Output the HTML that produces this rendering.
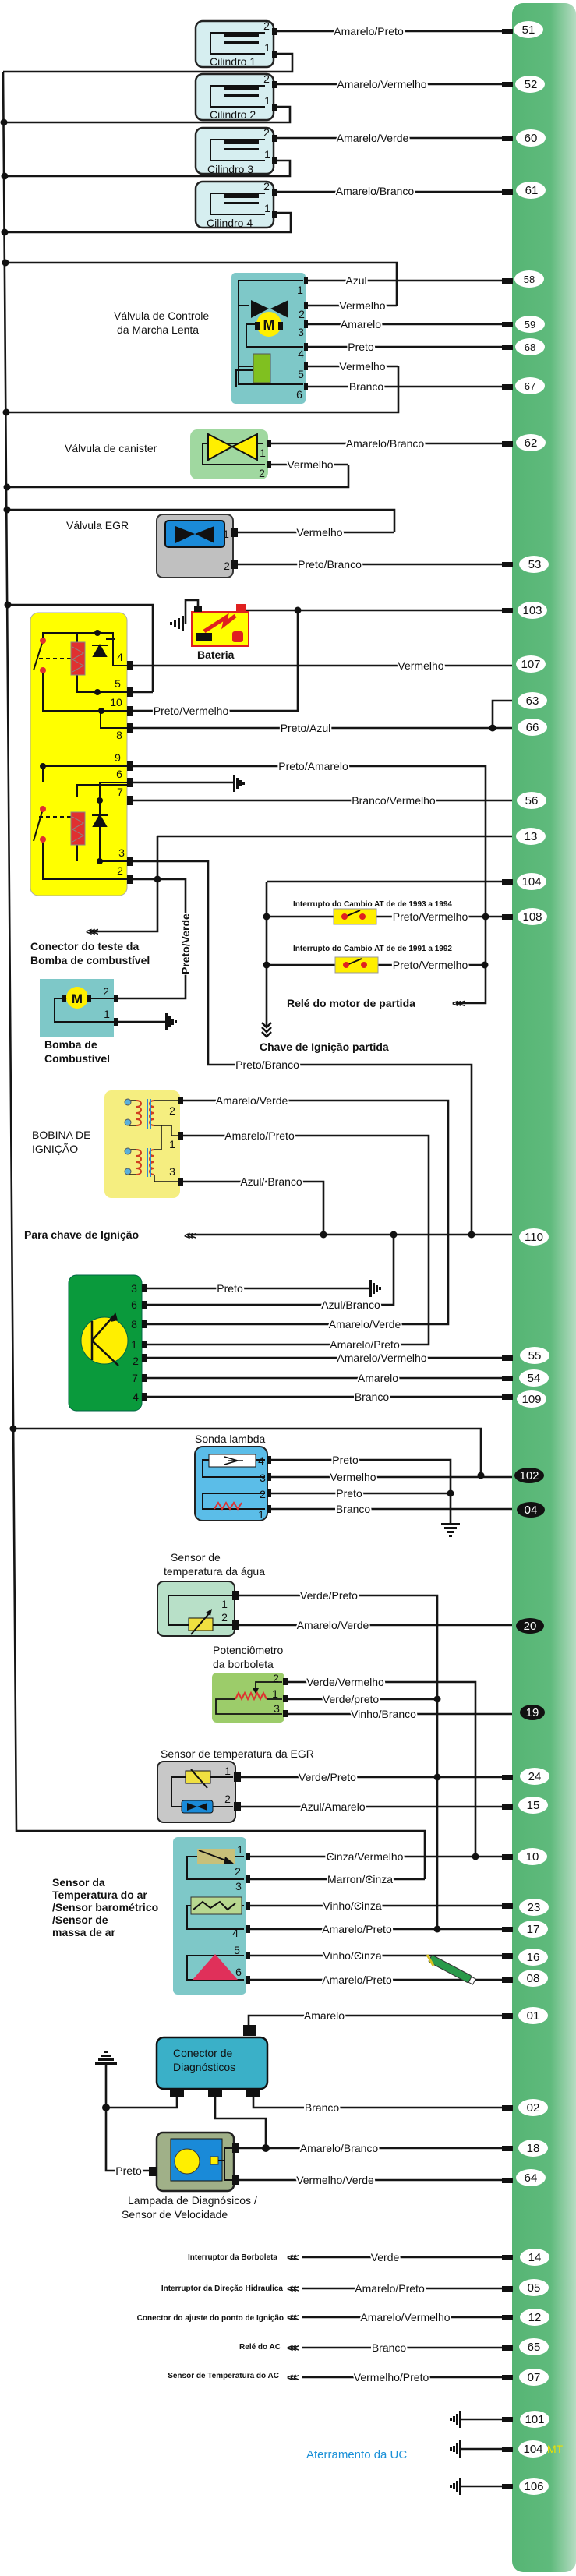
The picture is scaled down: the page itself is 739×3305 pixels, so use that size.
<!DOCTYPE html>
<html><head><meta charset="utf-8"><style>
html,body{margin:0;padding:0;background:#fff}
svg{display:block}
text{font-family:"Liberation Sans",sans-serif;fill:#111}
.l{font-size:14px;text-anchor:middle;stroke:#fff;stroke-width:4px;paint-order:stroke;stroke-linejoin:round}
.n{font-size:14px;text-anchor:middle}
.t{font-size:14px}
.s{font-size:10px;font-weight:bold}
.w{fill:none;stroke:#151515;stroke-width:2.6}
.pn{font-size:15px;text-anchor:middle}
</style></head><body>
<svg width="739" height="3305" viewBox="0 0 739 3305" xmlns="http://www.w3.org/2000/svg">
<defs>
<linearGradient id="gb" x1="0" x2="1" y1="0" y2="0"><stop offset="0" stop-color="#56b574"/><stop offset="0.6" stop-color="#5fba7c"/><stop offset="1" stop-color="#b5dcc2"/></linearGradient>
</defs>
<!-- green ECU bar -->
<rect x="657" y="4" width="82" height="3296" rx="14" fill="url(#gb)"/>

<!-- main bus -->
<path class="w" d="M4 92 L21 2349 L545 2349 L545 2411"/>
<g class="w">
<path d="M351 69 H375 V92 H4"/>
<path d="M351 137 H372 V157 H5"/>
<path d="M351 206 H372 V226 H6"/>
<path d="M351 273 H373 V298 H6"/>
<path d="M7 337 H509 V392"/>
<path d="M8 529 H511 V470"/>
<path d="M9 625 H447 V596"/>
<path d="M9 654 H506 V683"/>
<path d="M10 776 H196 V888"/>
<path d="M17 1833 H617 V1893"/>
</g>
<g fill="#111">
<circle cx="5" cy="157" r="4.5"/><circle cx="6" cy="226" r="4.5"/><circle cx="6" cy="298" r="4.5"/><circle cx="7" cy="337" r="4.5"/><circle cx="8" cy="529" r="4.5"/><circle cx="9" cy="625" r="4.5"/><circle cx="9" cy="654" r="4.5"/><circle cx="10" cy="776" r="4.5"/><circle cx="17" cy="1833" r="4.5"/>
</g>

<!-- injectors -->
<g id="inj">
<rect x="251" y="27" width="100" height="59" rx="9" fill="#d6eef0" stroke="#222" stroke-width="2.5"/>
<path d="M340 42 H270 V69 H340" fill="none" stroke="#111" stroke-width="2"/>
<rect x="288" y="42" width="44" height="6" fill="#111"/><rect x="288" y="53" width="44" height="3" fill="#111"/>
<rect x="349" y="36" width="6" height="9" fill="#111"/><rect x="349" y="65" width="6" height="9" fill="#111"/>
<text x="342" y="38" class="n" font-size="13">2</text><text x="343" y="66" class="n" font-size="13">1</text>
</g>
<text x="269" y="84" class="t" font-size="15">Cilindro 1</text>
<use href="#inj" y="68"/><text x="269" y="152" class="t" font-size="15">Cilindro 2</text>
<use href="#inj" y="137"/><text x="266" y="222" class="t" font-size="15">Cilindro 3</text>
<use href="#inj" y="206"/><text x="265" y="291" class="t" font-size="15">Cilindro 4</text>

<!-- pin wires to ECU -->
<g class="w">
<path d="M351 40 H657"/><path d="M351 108 H657"/><path d="M351 177 H657"/><path d="M351 246 H657"/>
<path d="M392 360 H657"/><path d="M392 392 H509"/><path d="M392 416 H657"/><path d="M392 445 H657"/><path d="M392 470 H511"/><path d="M392 496 H657"/>
<path d="M344 569 H657"/><path d="M344 596 H447"/>
<path d="M299 683 H506"/><path d="M299 724 H657"/>
<path d="M310 783 H657"/><path d="M163 854 H657"/><path d="M163 888 H196"/><path d="M163 912 H382 V783"/>
<path d="M163 934 H657"/><path d="M632 934 V899 H657"/>
<path d="M163 983 H623 V1287 H585"/><path d="M163 1004 H300"/><path d="M163 1027 H657"/>
<path d="M202 1073 H657"/><path d="M202 1073 V1195 H116"/>
<path d="M163 1105 H267 V1366 H605 V1584"/>
<path d="M163 1128 H238 V1281 H146"/><path d="M146 1311 H213"/>
<path d="M342 1131 H657"/><path d="M342 1131 V1318"/>
<path d="M342 1176 H428"/><path d="M483 1176 H657"/><path d="M342 1238 H430"/><path d="M485 1238 H623"/>
<path d="M231 1412 H575 V1699 H182"/><path d="M231 1457 H550 V1725 H182"/><path d="M231 1516 H415 V1584"/>
<path d="M240 1584 H657"/><path d="M505 1584 V1674 H182"/>
<path d="M182 1653 H475"/><path d="M182 1742 H657"/><path d="M182 1768 H657"/><path d="M182 1792 H657"/>
<path d="M343 1873 H578 V1955"/><path d="M343 1895 H657"/><path d="M343 1916 H578"/><path d="M343 1936 H657"/>
<path d="M301 2047 H561 V2475"/><path d="M301 2085 H657"/>
<path d="M365 2158 H610 V2382"/><path d="M365 2180 H561"/><path d="M365 2199 H657"/>
<path d="M302 2280 H657"/><path d="M302 2318 H657"/>
<path d="M316 2382 H657"/><path d="M316 2411 H545"/><path d="M316 2445 H657"/><path d="M316 2475 H657"/><path d="M316 2509 H657"/><path d="M316 2540 H657"/>
<path d="M319 2608 V2586 H657"/><path d="M325 2690 V2704 H657"/><path d="M227 2690 V2704 H136"/><path d="M136 2649 V2785 H195"/>
<path d="M276 2690 V2718 H341 V2756"/><path d="M300 2756 H657"/><path d="M300 2797 H657"/>
<path d="M388 2896 H657"/><path d="M388 2936 H657"/><path d="M388 2973 H657"/><path d="M388 3012 H657"/><path d="M388 3050 H657"/>
<path d="M590 3104 H657"/><path d="M590 3142 H657"/><path d="M590 3190 H657"/>
</g>
<g fill="#111">
<circle cx="382" cy="783" r="4.5"/><circle cx="632" cy="934" r="4.5"/><circle cx="202" cy="1128" r="4.5"/>
<circle cx="342" cy="1176" r="4.5"/><circle cx="342" cy="1238" r="4.5"/><circle cx="623" cy="1176" r="4.5"/><circle cx="622" cy="1238" r="4.5"/>
<circle cx="415" cy="1584" r="4.5"/><circle cx="505" cy="1584" r="4.5"/><circle cx="605" cy="1584" r="4.5"/>
<circle cx="617" cy="1893" r="4.5"/><circle cx="578" cy="1916" r="4.5"/>
<circle cx="561" cy="2180" r="4.5"/><circle cx="561" cy="2280" r="4.5"/><circle cx="561" cy="2475" r="4.5"/><circle cx="610" cy="2382" r="4.5"/>
<circle cx="136" cy="2704" r="5"/><circle cx="341" cy="2756" r="5"/>
</g>
<!-- ECU connector stubs -->
<g fill="#111">
<rect x="644" y="37" width="14" height="7"/><rect x="644" y="105" width="14" height="7"/><rect x="644" y="174" width="14" height="7"/><rect x="644" y="243" width="14" height="7"/>
<rect x="644" y="357" width="14" height="7"/><rect x="644" y="413" width="14" height="7"/><rect x="644" y="442" width="14" height="7"/><rect x="644" y="493" width="14" height="7"/>
<rect x="644" y="566" width="14" height="7"/><rect x="644" y="721" width="14" height="7"/><rect x="644" y="780" width="14" height="7"/>
<rect x="644" y="1128" width="14" height="7"/><rect x="644" y="1173" width="14" height="7"/>
<rect x="644" y="1739" width="14" height="7"/><rect x="644" y="1765" width="14" height="7"/><rect x="644" y="1789" width="14" height="7"/>
<rect x="644" y="2277" width="14" height="7"/><rect x="644" y="2315" width="14" height="7"/><rect x="644" y="2379" width="14" height="7"/><rect x="644" y="2442" width="14" height="7"/><rect x="644" y="2472" width="14" height="7"/><rect x="644" y="2506" width="14" height="7"/><rect x="644" y="2537" width="14" height="7"/>
<rect x="644" y="2583" width="14" height="7"/><rect x="644" y="2701" width="14" height="7"/><rect x="644" y="2753" width="14" height="7"/><rect x="644" y="2794" width="14" height="7"/>
<rect x="644" y="2893" width="14" height="7"/><rect x="644" y="2933" width="14" height="7"/><rect x="644" y="2970" width="14" height="7"/><rect x="644" y="3009" width="14" height="7"/><rect x="644" y="3047" width="14" height="7"/>
<rect x="644" y="3101" width="14" height="7"/><rect x="644" y="3139" width="14" height="7"/><rect x="644" y="3187" width="14" height="7"/>
</g>
<!-- ECU pin ovals -->
<g fill="#fff">
<ellipse cx="678" cy="38" rx="19" ry="11"/><ellipse cx="680" cy="108" rx="19" ry="11"/><ellipse cx="681" cy="177" rx="19" ry="11"/><ellipse cx="681" cy="244" rx="19" ry="11"/>
<ellipse cx="679" cy="358" rx="19" ry="11"/><ellipse cx="680" cy="416" rx="19" ry="11"/><ellipse cx="680" cy="445" rx="19" ry="11"/><ellipse cx="680" cy="495" rx="19" ry="11"/>
<ellipse cx="681" cy="568" rx="19" ry="11"/><ellipse cx="685" cy="724" rx="19" ry="11"/><ellipse cx="683" cy="783" rx="19" ry="11"/><ellipse cx="681" cy="852" rx="19" ry="11"/>
<ellipse cx="683" cy="899" rx="19" ry="11"/><ellipse cx="683" cy="933" rx="19" ry="11"/><ellipse cx="682" cy="1027" rx="19" ry="11"/><ellipse cx="681" cy="1073" rx="19" ry="11"/>
<ellipse cx="682" cy="1131" rx="19" ry="11"/><ellipse cx="683" cy="1176" rx="19" ry="11"/><ellipse cx="685" cy="1587" rx="19" ry="11"/>
<ellipse cx="686" cy="1739" rx="19" ry="11"/><ellipse cx="685" cy="1768" rx="19" ry="11"/><ellipse cx="682" cy="1795" rx="19" ry="11"/>
<ellipse cx="686" cy="2279" rx="19" ry="11"/><ellipse cx="684" cy="2316" rx="19" ry="11"/><ellipse cx="683" cy="2382" rx="19" ry="11"/><ellipse cx="685" cy="2447" rx="19" ry="11"/><ellipse cx="684" cy="2475" rx="19" ry="11"/><ellipse cx="684" cy="2511" rx="19" ry="11"/><ellipse cx="684" cy="2538" rx="19" ry="11"/>
<ellipse cx="684" cy="2586" rx="19" ry="11"/><ellipse cx="684" cy="2704" rx="19" ry="11"/><ellipse cx="684" cy="2756" rx="19" ry="11"/><ellipse cx="681" cy="2794" rx="19" ry="11"/>
<ellipse cx="686" cy="2896" rx="19" ry="11"/><ellipse cx="685" cy="2935" rx="19" ry="11"/><ellipse cx="686" cy="2973" rx="19" ry="11"/><ellipse cx="685" cy="3011" rx="19" ry="11"/><ellipse cx="685" cy="3050" rx="19" ry="11"/>
<ellipse cx="686" cy="3104" rx="19" ry="11"/><ellipse cx="684" cy="3142" rx="19" ry="11"/><ellipse cx="685" cy="3190" rx="19" ry="11"/>
</g>
<g fill="#111"><ellipse cx="679" cy="1893" rx="19" ry="10"/><ellipse cx="681" cy="1937" rx="18" ry="10"/><ellipse cx="680" cy="2086" rx="18" ry="10"/><ellipse cx="683" cy="2197" rx="16" ry="10"/></g>
<g class="pn">
<text x="678" y="43">51</text><text x="681" y="113">52</text><text x="681" y="182">60</text><text x="682" y="249">61</text>
<text x="679" y="363" font-size="13">58</text><text x="680" y="421" font-size="13">59</text><text x="680" y="450" font-size="13">68</text><text x="680" y="500" font-size="13">67</text>
<text x="681" y="573">62</text><text x="686" y="729">53</text><text x="683" y="788">103</text><text x="681" y="857">107</text>
<text x="683" y="904">63</text><text x="683" y="938">66</text><text x="682" y="1032">56</text><text x="681" y="1078">13</text>
<text x="682" y="1136">104</text><text x="683" y="1181">108</text><text x="685" y="1592">110</text>
<text x="686" y="1744">55</text><text x="685" y="1773">54</text><text x="682" y="1800">109</text>
<text x="679" y="1898" fill="#fff" style="fill:#fff">102</text><text x="681" y="1942" style="fill:#fff">04</text><text x="680" y="2091" style="fill:#fff">20</text><text x="683" y="2202" style="fill:#fff">19</text>
<text x="686" y="2284">24</text><text x="684" y="2321">15</text><text x="683" y="2387">10</text><text x="685" y="2452">23</text><text x="684" y="2480">17</text><text x="684" y="2516">16</text><text x="684" y="2543">08</text>
<text x="684" y="2591">01</text><text x="684" y="2709">02</text><text x="684" y="2761">18</text><text x="681" y="2799">64</text>
<text x="686" y="2901">14</text><text x="685" y="2940">05</text><text x="686" y="2978">12</text><text x="685" y="3016">65</text><text x="685" y="3055">07</text>
<text x="686" y="3109">101</text><text x="684" y="3147">104</text><text x="685" y="3195">106</text>
</g>
<text x="702" y="3147" font-size="14" style="fill:#f0e000">MT</text>

<!-- IAC valve -->
<rect x="297" y="350" width="95" height="168" rx="5" fill="#7ec8c8"/>
<path d="M389 360 H306 V493 H389 M306 392 H320 M316 416 V445 H389 M316 416 H330 M306 470 H325 M325 475 H303 V496" fill="none" stroke="#111" stroke-width="2"/>
<polygon points="322,397 345,408 322,420" fill="#111" transform="translate(0,-12)"/>
<polygon points="370,385 347,396 370,408" fill="#111"/>
<circle cx="345" cy="416" r="16" fill="#ffef00"/>
<text x="345" y="423" font-size="18" font-weight="bold" text-anchor="middle">M</text>
<rect x="327" y="413" width="6" height="10" fill="#111"/><rect x="357" y="413" width="6" height="10" fill="#111"/>
<rect x="325" y="454" width="22" height="37" fill="#80c020" stroke="#555"/>
<g fill="#111"><rect x="390" y="355" width="5" height="10"/><rect x="390" y="387" width="5" height="10"/><rect x="390" y="411" width="5" height="10"/><rect x="390" y="440" width="5" height="10"/><rect x="390" y="465" width="5" height="10"/><rect x="390" y="491" width="5" height="10"/></g>
<g class="n" font-size="14"><text x="385" y="377">1</text><text x="387" y="408">2</text><text x="386" y="431">3</text><text x="386" y="459">4</text><text x="386" y="485">5</text><text x="384" y="511">6</text></g>
<text x="146" y="410" class="t" font-size="14">Válvula de Controle</text>
<text x="150" y="428" class="t" font-size="14">da Marcha Lenta</text>

<!-- canister -->
<rect x="244" y="551" width="100" height="64" rx="9" fill="#a0d8a0"/>
<path d="M337 569 H260 V596 H340" fill="none" stroke="#111" stroke-width="2"/>
<polygon points="267,557 298,573 267,590" fill="#ffef00" stroke="#111" stroke-width="2"/>
<polygon points="330,557 298,573 330,590" fill="#ffef00" stroke="#111" stroke-width="2"/>
<rect x="342" y="565" width="6" height="9" fill="#111"/><rect x="342" y="592" width="6" height="9" fill="#111"/>
<text x="337" y="586" class="n">1</text><text x="336" y="612" class="n">2</text>
<text x="83" y="580" class="t" font-size="15">Válvula de canister</text>

<!-- EGR valve -->
<rect x="201" y="660" width="98" height="81" rx="8" fill="#c0c0c0" stroke="#333" stroke-width="2"/>
<rect x="212" y="668" width="76" height="34" rx="4" fill="#1a8ad8" stroke="#111" stroke-width="2"/>
<polygon points="225,675 250,685 225,697" fill="#111"/><polygon points="275,675 250,685 275,697" fill="#111"/>
<rect x="297" y="677" width="8" height="12" fill="#111"/><rect x="297" y="718" width="8" height="12" fill="#111"/>
<text x="290" y="690" class="n">1</text><text x="291" y="731" class="n">2</text>
<text x="85" y="679" class="t" font-size="15">Válvula EGR</text>

<!-- battery -->
<path class="w" d="M254 783 V770 H238 V800"/>
<g fill="#111"><rect x="233" y="790" width="3" height="20"/><rect x="228" y="793" width="3" height="14"/><rect x="223" y="796" width="3" height="8"/><rect x="218" y="798" width="3" height="4"/></g>
<rect x="246" y="785" width="73" height="44" fill="#ffff00" stroke="#e02020" stroke-width="2"/>
<rect x="249" y="777" width="10" height="8" fill="#111"/><rect x="303" y="775" width="12" height="10" fill="#e02020"/>
<rect x="252" y="812" width="20" height="10" fill="#111"/>
<path d="M262 810 L290 792 L288 801 L302 790" stroke="#e02020" stroke-width="5" fill="none"/>
<rect x="298" y="810" width="14" height="14" rx="3" fill="#e02020"/>
<text x="253" y="845" class="t" font-size="14" font-weight="bold">Bateria</text>

<!-- relay -->
<rect x="39" y="786" width="124" height="363" rx="10" fill="#ffff00" stroke="#aaa" stroke-width="1"/>
<g fill="none" stroke="#111" stroke-width="2">
<path d="M55 820 V812 H145 V854 H163 M99 812 V825 M99 865 V888 H163 M124 812 V812 M55 860 V912 H163 M129 912 V934 H163 M145 812 V816 M136 820 H147"/>
<path d="M55 1003 V983 H163 M99 1022 V1007 H128 V1004 H163 M128 1007 H163 M128 1007 V1105 H163 M99 1062 V1105 M55 1076 V1128 H163"/>
<path d="M43 860 L55 822 M43 1079 L55 1038"/>
<path d="M50 845 H92 M50 1048 H92" stroke-dasharray="5,4"/>
</g>
<path d="M120 842 L128 828 L136 842 Z M118 828 H138" fill="#111" stroke="#111" stroke-width="2"/>
<path d="M120 1060 L128 1046 L136 1060 Z M118 1046 H138" fill="#111" stroke="#111" stroke-width="2"/>
<rect x="91" y="824" width="18" height="42" fill="#e03030" stroke="#888"/>
<rect x="91" y="1042" width="18" height="42" fill="#e03030" stroke="#888"/>
<path d="M93 830 L107 838 L93 846 L107 854 L93 862 M93 1048 L107 1056 L93 1064 L107 1072 L93 1080" fill="none" stroke="#888" stroke-width="1"/>
<g fill="#e03030"><circle cx="55" cy="822" r="4"/><circle cx="55" cy="860" r="4"/><circle cx="55" cy="1038" r="4"/><circle cx="55" cy="1077" r="4"/></g>
<g fill="#111"><circle cx="125" cy="812" r="4"/><circle cx="125" cy="888" r="4"/><circle cx="130" cy="912" r="4"/><circle cx="55" cy="983" r="4"/><circle cx="128" cy="1027" r="4"/><circle cx="128" cy="1105" r="4"/>
<rect x="163" y="848" width="7" height="12"/><rect x="163" y="882" width="7" height="12"/><rect x="163" y="906" width="7" height="12"/><rect x="163" y="928" width="7" height="12"/><rect x="163" y="977" width="7" height="12"/><rect x="163" y="998" width="7" height="12"/><rect x="163" y="1021" width="7" height="12"/><rect x="163" y="1099" width="7" height="12"/><rect x="163" y="1122" width="7" height="12"/></g>
<g class="n" font-size="14"><text x="154" y="848">4</text><text x="151" y="882">5</text><text x="149" y="906">10</text><text x="153" y="948">8</text><text x="151" y="977">9</text><text x="153" y="998">6</text><text x="154" y="1021">7</text><text x="156" y="1099">3</text><text x="154" y="1122">2</text></g>

<!-- grounds (right-pointing, vertical bar) -->
<g fill="#111">
<rect x="299" y="994" width="3" height="22"/><rect x="303" y="998" width="3" height="14"/><rect x="307" y="1001" width="3" height="8"/><rect x="311" y="1003" width="3" height="4"/>
<rect x="212" y="1300" width="3" height="22"/><rect x="216" y="1304" width="3" height="14"/><rect x="220" y="1307" width="3" height="8"/><rect x="224" y="1309" width="3" height="4"/>
<rect x="474" y="1642" width="3" height="22"/><rect x="478" y="1646" width="3" height="14"/><rect x="482" y="1649" width="3" height="8"/><rect x="486" y="1651" width="3" height="4"/>
<rect x="566" y="1954" width="24" height="3"/><rect x="570" y="1959" width="16" height="3"/><rect x="573" y="1964" width="10" height="3"/><rect x="576" y="1969" width="4" height="3"/>
<rect x="122" y="2646" width="28" height="3"/><rect x="126" y="2641" width="20" height="3"/><rect x="130" y="2636" width="12" height="3"/><rect x="133" y="2631" width="6" height="3"/>
</g>
<g id="gl" fill="#111"><rect x="589" y="3093" width="3" height="22"/><rect x="585" y="3097" width="3" height="14"/><rect x="581" y="3100" width="3" height="8"/><rect x="577" y="3102" width="3" height="4"/></g>
<use href="#gl" y="38"/><use href="#gl" y="86"/>

<!-- arrows -->
<g font-size="14" font-weight="bold" style="letter-spacing:-4px">
<text x="110" y="1200">&lt;&lt;&lt;</text>
<text x="580" y="1292">&lt;&lt;&lt;</text>
<text x="236" y="1590">&lt;&lt;&lt;</text>
<text x="368" y="2901">&lt;&lt;&lt;</text><text x="368" y="2941">&lt;&lt;&lt;</text><text x="368" y="2978">&lt;&lt;&lt;</text><text x="368" y="3017">&lt;&lt;&lt;</text><text x="368" y="3055">&lt;&lt;&lt;</text>
</g>
<path d="M336 1312 L342 1318 L348 1312 M336 1318 L342 1324 L348 1318 M336 1324 L342 1330 L348 1324" fill="none" stroke="#111" stroke-width="2.5"/>

<text x="39" y="1219" class="t" font-size="13" font-weight="bold">Conector do teste da</text>
<text x="39" y="1237" class="t" font-size="13" font-weight="bold">Bomba de combustível</text>
<text x="243" y="1250" class="t" font-size="13" font-weight="bold" transform="rotate(-90 243 1250)" style="stroke:#fff;stroke-width:3px;paint-order:stroke">Preto/Verde</text>

<!-- pump -->
<rect x="51" y="1256" width="95" height="74" fill="#7ec8c8"/>
<path d="M146 1281 H70 V1311 H146" fill="none" stroke="#111" stroke-width="2"/>
<circle cx="99" cy="1280" r="14" fill="#ffef00"/><text x="99" y="1287" font-size="17" font-weight="bold" text-anchor="middle">M</text>
<rect x="80" y="1276" width="5" height="9" fill="#111"/><rect x="112" y="1276" width="5" height="9" fill="#111"/>
<rect x="146" y="1276" width="5" height="10" fill="#111"/><rect x="146" y="1306" width="5" height="10" fill="#111"/>
<text x="136" y="1277" class="n">2</text><text x="137" y="1306" class="n">1</text>
<text x="57" y="1345" class="t" font-size="13" font-weight="bold">Bomba de</text>
<text x="57" y="1363" class="t" font-size="13" font-weight="bold">Combustível</text>

<!-- AT switches -->
<text x="376" y="1163" class="s" font-size="9">Interrupto do Cambio AT de de 1993 a 1994</text>
<text x="376" y="1220" class="s" font-size="9">Interrupto do Cambio AT de de 1991 a 1992</text>
<rect x="428" y="1166" width="55" height="20" fill="#ffef00" stroke="#999"/><rect x="430" y="1228" width="55" height="20" fill="#ffef00" stroke="#999"/>
<path d="M443 1176 L462 1168 M445 1238 L464 1230" stroke="#111" stroke-width="2"/>
<g fill="#e02020"><circle cx="442" cy="1176" r="4"/><circle cx="465" cy="1176" r="4"/><circle cx="444" cy="1238" r="4"/><circle cx="467" cy="1238" r="4"/></g>
<text x="552" y="1181" class="l" font-size="15">Preto/Vermelho</text>
<text x="552" y="1243" class="l" font-size="15">Preto/Vermelho</text>
<text x="368" y="1292" class="t" font-size="13" font-weight="bold">Relé do motor de partida</text>
<text x="333" y="1348" class="t" font-size="13" font-weight="bold">Chave de Ignição partida</text>

<!-- coil -->
<rect x="134" y="1399" width="97" height="138" rx="9" fill="#f5ee80"/>
<g fill="none" stroke="#d04020" stroke-width="2">
<path d="M175 1412 c8 0 8 8 0 8 c8 0 8 8 0 8 c8 0 8 8 0 8 c8 0 8 8 0 8 M198 1412 c-8 0 -8 8 0 8 c-8 0 -8 8 0 8 c-8 0 -8 8 0 8 c-8 0 -8 8 0 8"/>
<path d="M175 1475 c8 0 8 8 0 8 c8 0 8 8 0 8 c8 0 8 8 0 8 c8 0 8 8 0 8 M198 1475 c-8 0 -8 8 0 8 c-8 0 -8 8 0 8 c-8 0 -8 8 0 8 c-8 0 -8 8 0 8"/>
</g>
<path d="M198 1412 H231 M198 1444 H220 V1457 H231 M207 1444 V1475 H198 M198 1507 V1516 H231 M165 1412 H175 M165 1444 H175 M165 1475 H175 M165 1507 H175" fill="none" stroke="#111" stroke-width="1.5"/>
<g stroke="#2a8ad8" stroke-width="2"><path d="M189 1410 V1448 M193 1410 V1448 M189 1473 V1510 M193 1473 V1510"/></g>
<g fill="#5ab0d8" stroke="#555"><circle cx="164" cy="1414" r="4"/><circle cx="164" cy="1440" r="4"/><circle cx="164" cy="1477" r="4"/><circle cx="164" cy="1503" r="4"/></g>
<g fill="#111"><rect x="229" y="1407" width="6" height="10"/><rect x="229" y="1452" width="6" height="10"/><rect x="229" y="1511" width="6" height="10"/></g>
<text x="221" y="1430" class="n">2</text><text x="221" y="1473" class="n">1</text><text x="221" y="1508" class="n">3</text>
<text x="41" y="1461" class="t" font-size="14">BOBINA DE</text>
<text x="41" y="1479" class="t" font-size="14">IGNIÇÃO</text>
<text x="31" y="1589" class="t" font-size="15" font-weight="bold">Para chave de Ignição</text>

<!-- module -->
<rect x="88" y="1636" width="94" height="174" rx="10" fill="#0a9a3c" stroke="#064" stroke-width="1"/>
<circle cx="134" cy="1720" r="30" fill="#ffef00" stroke="#064"/>
<path d="M118 1695 V1745 M118 1720 L146 1688 M118 1720 L152 1752" stroke="#111" stroke-width="2.5" fill="none"/>
<polygon points="148,1683 142,1696 151,1694" fill="#111"/>
<g fill="#111"><rect x="182" y="1648" width="7" height="10"/><rect x="182" y="1669" width="7" height="10"/><rect x="182" y="1694" width="7" height="10"/><rect x="182" y="1720" width="7" height="10"/><rect x="182" y="1737" width="7" height="10"/><rect x="182" y="1763" width="7" height="10"/><rect x="182" y="1787" width="7" height="10"/></g>
<g class="n"><text x="172" y="1658">3</text><text x="172" y="1679">6</text><text x="172" y="1704">8</text><text x="172" y="1730">1</text><text x="174" y="1751">2</text><text x="173" y="1773">7</text><text x="174" y="1797">4</text></g>

<!-- sonda -->
<text x="250" y="1851" class="t" font-size="14">Sonda lambda</text>
<rect x="250" y="1856" width="93" height="95" rx="10" fill="#5bbde8" stroke="#222" stroke-width="2"/>
<path d="M340 1873 H260 V1895 H340 M340 1916 H260 V1936 H340" fill="none" stroke="#111" stroke-width="2"/>
<rect x="268" y="1866" width="60" height="16" fill="#fff" stroke="#111"/>
<path d="M288 1869 L305 1874 L288 1879 M292 1874 H312" stroke="#111" stroke-width="1.5" fill="none"/>
<path d="M275 1936 l5 -8 l5 8 l5 -8 l5 8 l5 -8 l5 8 l5 -8" stroke="#e03030" stroke-width="2" fill="none"/>
<g fill="#111"><rect x="342" y="1868" width="6" height="10"/><rect x="342" y="1890" width="6" height="10"/><rect x="342" y="1911" width="6" height="10"/><rect x="342" y="1931" width="6" height="10"/></g>
<g class="n" font-size="13"><text x="335" y="1879">4</text><text x="337" y="1901">3</text><text x="337" y="1922">2</text><text x="335" y="1948">1</text></g>

<!-- water temp -->
<text x="219" y="2003" class="t" font-size="13">Sensor de</text>
<text x="210" y="2021" class="t" font-size="13">temperatura  da água</text>
<rect x="202" y="2029" width="99" height="70" rx="8" fill="#b8e0c8" stroke="#222" stroke-width="2"/>
<path d="M298 2047 H216 V2085 H298" fill="none" stroke="#111" stroke-width="2"/>
<rect x="242" y="2076" width="31" height="16" fill="#f0e040" stroke="#111"/>
<path d="M245 2097 L270 2068" stroke="#111" stroke-width="2"/><polygon points="272,2064 264,2069 270,2073" fill="#111"/>
<rect x="298" y="2041" width="8" height="12" fill="#111"/><rect x="298" y="2079" width="8" height="12" fill="#111"/>
<text x="288" y="2063" class="n">1</text><text x="288" y="2080" class="n">2</text>

<!-- pot -->
<text x="273" y="2122" class="t" font-size="13">Potenciômetro</text>
<text x="273" y="2140" class="t" font-size="13">da borboleta</text>
<rect x="272" y="2146" width="93" height="64" rx="6" fill="#9ccc6a"/>
<path d="M362 2158 H328 V2168 M362 2180 H343 M362 2199 H277 V2180 H302" fill="none" stroke="#111" stroke-width="1.8"/>
<path d="M302 2180 l4 -8 l4 8 l4 -8 l4 8 l4 -8 l4 8 l4 -8 l4 8 l4 -8 l4 8" stroke="#e03030" stroke-width="2" fill="none"/>
<polygon points="324,2166 332,2166 328,2173" fill="#111"/>
<g fill="#111"><rect x="363" y="2153" width="6" height="9"/><rect x="363" y="2175" width="6" height="9"/><rect x="363" y="2194" width="6" height="9"/></g>
<g class="n" font-size="12"><text x="354" y="2158">2</text><text x="353" y="2178">1</text><text x="355" y="2197">3</text></g>

<!-- EGR temp -->
<text x="206" y="2255" class="t" font-size="13">Sensor de temperatura da EGR</text>
<rect x="202" y="2260" width="100" height="78" rx="8" fill="#c8c8c8" stroke="#222" stroke-width="2"/>
<path d="M299 2280 H220 V2318 H299" fill="none" stroke="#111" stroke-width="2"/>
<rect x="238" y="2272" width="32" height="16" fill="#f0e040" stroke="#111"/>
<path d="M245 2270 L266 2294" stroke="#111" stroke-width="2"/>
<rect x="233" y="2310" width="40" height="16" rx="3" fill="#1a8ad8" stroke="#111"/>
<polygon points="240,2313 253,2318 240,2323" fill="#111"/><polygon points="266,2313 253,2318 266,2323" fill="#111"/>
<rect x="300" y="2274" width="9" height="12" fill="#111"/><rect x="300" y="2312" width="9" height="12" fill="#111"/>
<text x="292" y="2277" class="n">1</text><text x="292" y="2313" class="n">2</text>

<!-- MAF -->
<rect x="222" y="2357" width="94" height="202" rx="6" fill="#7ec8c8"/>
<path d="M313 2382 H240 V2411 H313 M313 2445 H240 V2475 H313 M313 2509 H240 V2540 H313" fill="none" stroke="#111" stroke-width="2"/>
<rect x="253" y="2372" width="48" height="20" fill="#c8c07a"/>
<path d="M255 2374 L298 2390" stroke="#111" stroke-width="2"/><polygon points="300,2391 289,2382 287,2391" fill="#111"/>
<rect x="245" y="2434" width="65" height="22" fill="#b8d890" stroke="#333"/>
<path d="M248 2450 l12 -10 l10 8 l12 -8 l10 10 l10 -8" stroke="#111" stroke-width="2" fill="none"/>
<polygon points="247,2540 276,2507 305,2540" fill="#e0305a"/>
<g fill="#111"><rect x="315" y="2377" width="6" height="10"/><rect x="315" y="2406" width="6" height="10"/><rect x="315" y="2440" width="6" height="10"/><rect x="315" y="2470" width="6" height="10"/><rect x="315" y="2504" width="6" height="10"/><rect x="315" y="2535" width="6" height="10"/></g>
<g class="n"><text x="308" y="2378">1</text><text x="305" y="2406">2</text><text x="306" y="2425">3</text><text x="302" y="2485">4</text><text x="304" y="2507">5</text><text x="306" y="2535">6</text></g>
<text x="67" y="2420" class="t" font-size="13" font-weight="bold">Sensor da</text>
<text x="67" y="2436" class="t" font-size="13" font-weight="bold">Temperatura do ar</text>
<text x="67" y="2452" class="t" font-size="13" font-weight="bold">/Sensor barométrico</text>
<text x="67" y="2468" class="t" font-size="13" font-weight="bold">/Sensor de</text>
<text x="67" y="2484" class="t" font-size="13" font-weight="bold">massa de ar</text>
<g transform="rotate(28 577 2527)"><rect x="548" y="2521" width="58" height="10" rx="2" fill="#2a9a4a" stroke="#333"/><rect x="606" y="2522" width="6" height="8" fill="#fff" stroke="#333"/></g>
<path d="M548 2508 L556 2522" stroke="#d8c020" stroke-width="3"/>

<!-- diag connector -->
<rect x="312" y="2598" width="16" height="14" fill="#111"/>
<rect x="201" y="2614" width="142" height="66" rx="9" fill="#3ab0c8" stroke="#111" stroke-width="2.5"/>
<text x="222" y="2639" class="t" font-size="15">Conector de</text>
<text x="222" y="2657" class="t" font-size="15">Diagnósticos</text>
<g fill="#111"><rect x="218" y="2679" width="18" height="12"/><rect x="267" y="2679" width="18" height="12"/><rect x="316" y="2679" width="18" height="12"/></g>
<rect x="201" y="2736" width="99" height="75" rx="8" fill="#a0b088" stroke="#222" stroke-width="2.5"/>
<rect x="219" y="2744" width="66" height="54" fill="#1a8ad8" stroke="#111" stroke-width="1"/>
<circle cx="240" cy="2773" r="16" fill="#ffef00" stroke="#333"/>
<rect x="270" y="2767" width="10" height="10" fill="#ffef00" stroke="#333"/>
<path d="M280 2772 H288 V2756 H300 M288 2772 V2797 H300" fill="none" stroke="#111" stroke-width="2"/>
<g fill="#111"><rect x="298" y="2750" width="9" height="12"/><rect x="298" y="2791" width="9" height="12"/><rect x="191" y="2780" width="10" height="12"/></g>
<text x="164" y="2828" class="t" font-size="15">Lampada de Diagnósicos /</text>
<text x="156" y="2846" class="t" font-size="15">Sensor de Velocidade</text>

<!-- bottom labels -->
<g class="s" text-anchor="end">
<text x="356" y="2899">Interruptor da Borboleta</text>
<text x="363" y="2939">Interruptor da Direção Hidraulica</text>
<text x="364" y="2977">Conector do ajuste do ponto de Ignição</text>
<text x="360" y="3014">Relé do AC</text>
<text x="358" y="3051">Sensor de Temperatura do AC</text>
</g>
<text x="393" y="3154" font-size="15" style="fill:#1a90d8">Aterramento da UC</text>

<!-- wire labels -->
<g class="l">
<text x="473" y="45">Amarelo/Preto</text><text x="490" y="113">Amarelo/Vermelho</text><text x="478" y="182">Amarelo/Verde</text><text x="481" y="250">Amarelo/Branco</text>
<text x="457" y="365">Azul</text><text x="465" y="397">Vermelho</text><text x="463" y="421">Amarelo</text><text x="463" y="450">Preto</text><text x="465" y="475">Vermelho</text><text x="470" y="501">Branco</text>
<text x="494" y="574">Amarelo/Branco</text><text x="398" y="601">Vermelho</text>
<text x="410" y="688">Vermelho</text><text x="423" y="729">Preto/Branco</text>
<text x="540" y="859">Vermelho</text><text x="245" y="917">Preto/Vermelho</text><text x="392" y="939">Preto/Azul</text>
<text x="402" y="988">Preto/Amarelo</text><text x="505" y="1032">Branco/Vermelho</text>
<text x="343" y="1371">Preto/Branco</text>
<text x="323" y="1417">Amarelo/Verde</text><text x="333" y="1462">Amarelo/Preto</text><text x="348" y="1521">Azul/ Branco</text>
<text x="295" y="1658">Preto</text><text x="450" y="1679">Azul/Branco</text><text x="468" y="1704">Amarelo/Verde</text><text x="468" y="1730">Amarelo/Preto</text>
<text x="490" y="1747">Amarelo/Vermelho</text><text x="485" y="1773">Amarelo</text><text x="477" y="1797">Branco</text>
<text x="443" y="1878">Preto</text><text x="453" y="1900">Vermelho</text><text x="448" y="1921">Preto</text><text x="453" y="1941">Branco</text>
<text x="422" y="2052">Verde/Preto</text><text x="427" y="2090">Amarelo/Verde</text>
<text x="443" y="2163">Verde/Vermelho</text><text x="450" y="2185">Verde/preto</text><text x="492" y="2204">Vinho/Branco</text>
<text x="420" y="2285">Verde/Preto</text><text x="427" y="2323">Azul/Amarelo</text>
<text x="468" y="2387">Cinza/Vermelho</text><text x="462" y="2416">Marron/Cinza</text><text x="452" y="2450">Vinho/Cinza</text><text x="458" y="2480">Amarelo/Preto</text><text x="452" y="2514">Vinho/Cinza</text><text x="458" y="2545">Amarelo/Preto</text>
<text x="416" y="2591">Amarelo</text><text x="413" y="2709">Branco</text><text x="435" y="2761">Amarelo/Branco</text><text x="430" y="2802">Vermelho/Verde</text>
<text x="165" y="2790">Preto</text>
<text x="494" y="2901">Verde</text><text x="500" y="2941">Amarelo/Preto</text><text x="520" y="2978">Amarelo/Vermelho</text><text x="499" y="3017">Branco</text><text x="502" y="3055">Vermelho/Preto</text>
</g>
</svg>
</body></html>
